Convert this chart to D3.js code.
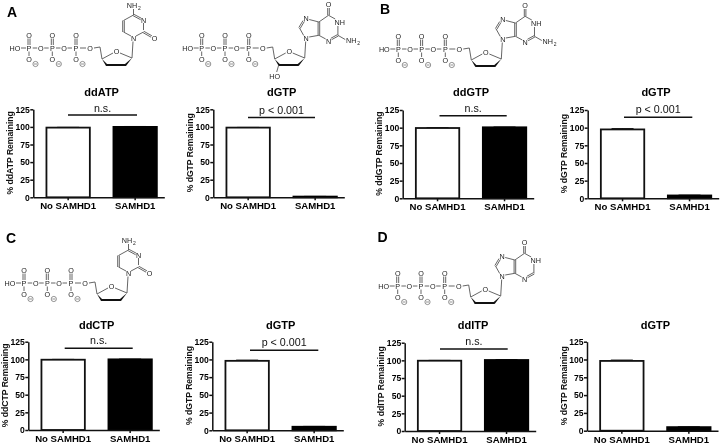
<!DOCTYPE html>
<html><head><meta charset="utf-8">
<style>html,body{margin:0;padding:0;background:#fff}svg{display:block;filter:blur(0.35px)}text{font-family:"Liberation Sans",Arial,sans-serif}</style>
<script src="https://cdn.jsdelivr.net/npm/d3@7"></script></head><body><div id="c"></div>
<script>
const categories = ["No SAMHD1", "SAMHD1"];
const yTicks = [0, 25, 50, 75, 100, 125];
const titles = ["ddATP", "dGTP", "ddGTP", "dGTP", "ddCTP", "dGTP", "ddITP", "dGTP"];
const significance = ["n.s.", "p < 0.001", "n.s.", "p < 0.001", "n.s.", "p < 0.001", "n.s.", ""];
const remainingNoSAMHD1 = [99, 99, 99.5, 97.5, 99.5, 98, 99.5, 98];
const remainingSAMHD1 = [100, 1, 100.5, 4, 100, 5, 100.5, 5];
const errorNoSAMHD1 = [0.4, 0.3, 0.5, 1.2, 0.5, 1, 0.5, 1.2];
const errorSAMHD1 = [0.6, 0.3, 0.4, 0.5, 0.4, 0.5, 0.5, 0.5];

// layout: left of axis, y of 125, y of 0, sig line x1, x2, y, sig label baseline
const layout = [
  [33.3,109.3,197.3, 68,137,115, 111.7],
  [213.3,109.3,197.3, 248,315,117.5, 113.5],
  [402.7,110,198.3, 439.5,506.7,115.7, 112],
  [587.7,110,198.3, 624,692.3,117.3, 113.3],
  [28.3,341.7,430, 64.7,132.7,348.3, 344],
  [212.3,341.7,430.3, 250,318.3,350.3, 346],
  [404.7,342.7,431, 440,507.7,349, 345],
  [587,341.7,430.7, 0,0,0,0]
];
const titleBase = [96,96,96,96,329,329,329,329];
const letters = [["A",7,17],["B",380,14],["C",6,243],["D",377.5,242]];
// x, y of first P, base type, has 3'-OH
const molecules = [[29,48,"C",false],[201.7,48,"G",true],[398.3,49,"G",false],[24,283,"C",false],[397.7,286,"I",false]];

const W = 725, H = 445, ink = "#111", axisW = 131;
const svg = d3.select("#c").append("svg").attr("width",W).attr("height",H);
svg.append("rect").attr("width",W).attr("height",H).attr("fill","#fff");

letters.forEach(([t,x,y]) => svg.append("text").attr("x",x).attr("y",y)
  .attr("font-size",14).attr("font-weight","bold").attr("fill","#000").text(t));

titles.forEach((title,i) => {
  const [x0,yTop,yBot,sx1,sx2,sy,sLab] = layout[i];
  const y = d3.scaleLinear().domain([0,125]).range([yBot,yTop]);
  const x = d3.scaleBand().domain(categories).range([x0,x0+axisW])
    .paddingInner(22/67).paddingOuter(19/2/67).align(0.65);
  const g = svg.append("g");
  const vals = [remainingNoSAMHD1[i], remainingSAMHD1[i]];
  const errs = [errorNoSAMHD1[i], errorSAMHD1[i]];

  // error bars
  categories.forEach((c,k) => {
    const cx = x(c) + x.bandwidth()/2;
    const top = y(vals[k] + errs[k]);
    g.append("line").attr("x1",cx).attr("x2",cx).attr("y1",y(vals[k])).attr("y2",top).attr("stroke",ink).attr("stroke-width",1);
    g.append("line").attr("x1",cx-11).attr("x2",cx+11).attr("y1",top).attr("y2",top).attr("stroke",ink).attr("stroke-width",1);
  });
  // bars
  g.selectAll("rect.bar").data(categories).join("rect").attr("class","bar")
    .attr("x",c => x(c)+0.8).attr("width",x.bandwidth()-1.6)
    .attr("y",(c,k) => y(vals[k])).attr("height",(c,k) => y(0)-y(vals[k]))
    .attr("fill",(c,k) => k ? "#000" : "#fff").attr("stroke",(c,k)=> k ? "#000" : ink).attr("stroke-width",1.8);

  // axes
  const ay = g.append("g").attr("transform",`translate(${x0},0)`)
    .call(d3.axisLeft(y).tickValues(yTicks).tickSize(3).tickSizeOuter(0).tickPadding(0.5));
  const ax = g.append("g").attr("transform",`translate(0,${yBot})`)
    .call(d3.axisBottom(x).tickSize(3).tickSizeOuter(0).tickPadding(2));
  [ay,ax].forEach(a => {
    a.selectAll("path,line").attr("stroke",ink).attr("stroke-width",1.5);
    a.selectAll("text").attr("font-family",'"Liberation Sans",Arial,sans-serif').attr("font-weight","bold").attr("fill","#000");
  });
  ay.selectAll("text").attr("font-size",8.6);
  ax.selectAll("text").attr("font-size",9.6);

  // y title
  const ym = (yTop+yBot)/2 - 0.5;
  g.append("text").attr("transform",`translate(${x0-20.5},${ym}) rotate(-90)`)
    .attr("text-anchor","middle").attr("font-size",8.6).attr("font-weight","bold").attr("fill","#111")
    .text(`% ${title} Remaining`);

  // title
  const tx = (x(categories[0]) + x(categories[1]) + x.bandwidth())/2;
  g.append("text").attr("x",tx).attr("y",titleBase[i]).attr("text-anchor","middle")
    .attr("font-size",11).attr("font-weight","bold").attr("fill","#000").text(title);

  // significance
  if (significance[i]) {
    g.append("line").attr("x1",sx1).attr("x2",sx2).attr("y1",sy).attr("y2",sy).attr("stroke",ink).attr("stroke-width",1.4);
    g.append("text").attr("x",(sx1+sx2)/2).attr("y",sLab).attr("text-anchor","middle")
      .attr("font-size",10.7).attr("fill","#111").text(significance[i]);
  }
});

// ----- chemical structures -----
const bondCol = "#555", atomCol = "#222";
function drawMolecule([mx,my,base,oh]) {
  const m = svg.append("g").attr("transform",`translate(${mx},${my})`);
  const bond = (x1,y1,x2,y2,w=0.9,c=bondCol) => m.append("line").attr("x1",x1).attr("y1",y1).attr("x2",x2).attr("y2",y2).attr("stroke",c).attr("stroke-width",w);
  const atom = (t,x,y,anchor="middle") => m.append("text").attr("x",x).attr("y",y+2.5).attr("text-anchor",anchor).attr("font-size",7.2).attr("fill",atomCol).text(t);
  const dbl = (x1,y1,x2,y2,d=1) => {
    const L = Math.hypot(x2-x1,y2-y1), nx = -(y2-y1)/L*d, ny = (x2-x1)/L*d;
    bond(x1+nx,y1+ny,x2+nx,y2+ny); bond(x1-nx,y1-ny,x2-nx,y2-ny);
  };
  atom("HO",-14,0);
  bond(-8,0,-3,0);
  [0,23.3,47].forEach(px => {
    atom("P",px,0);
    atom("O",px,-13);
    dbl(px,-9.5,px,-3);
    atom("O",px,11.5);
    bond(px,3.5,px,8);
    m.append("circle").attr("cx",px+6.5).attr("cy",16).attr("r",2.6).attr("fill","none").attr("stroke","#666").attr("stroke-width",0.7);
    bond(px+5,16,px+8,16,0.7,"#666");
  });
  [11.7,35].forEach(ox => { atom("O",ox,0); bond(ox-8,0,ox-3.5,0); bond(ox+3.5,0,ox+8,0); });
  atom("O",61,0); bond(51,0,57,0);
  // sugar
  bond(65,0,71,-1); bond(71,-1,73,11);
  atom("O",87.5,3);
  bond(73,11,84,5); bond(91,5,103,10);
  m.append("polygon").attr("points","73,11 77,18 78,16").attr("fill","#111");
  m.append("polygon").attr("points","103,10 97,18 96,16").attr("fill","#111");
  bond(77,17,97,17,2,"#111");
  bond(103,10,104,-6.5);
  if (oh) { bond(77,17,75,24); atom("HO",73,28); }

  const ox = 104.5, oy = -10;
  const at = (x,y) => [ox+x, oy+y];
  const b = (p,q,dblB) => dblB ? dbl(...at(...p),...at(...q),0.8) : bond(...at(...p),...at(...q));
  if (base === "C") {
    atom("N",ox,oy);
    b([-2.5,-2],[-10,-6]); b([-10,-6],[-10,-17.5],true); b([-10,-17.5],[0,-23]);
    b([0,-23],[7.5,-19],true); b([10,-15],[10,-8]); b([10,-6],[2.5,-2]);
    b([10,-6],[18,-1.5],true);
    b([0,-23],[0,-29]);
    atom("N",ox+10,oy-17.5); atom("O",ox+21,oy);
    atom("NH",ox-1.5,oy-33);
    m.append("text").attr("x",ox+4.5).attr("y",oy-28.5).attr("font-size",5).attr("fill",atomCol).text("2");
  } else {
    atom("N",ox,oy);
    atom("N",ox,oy-19.5);
    b([-2.5,-2.5],[-6.7,-10]); b([-6.7,-10],[-2.5,-17],true);
    b([3,-18.5],[12.7,-16]); b([12.7,-16],[12.7,-2.7],true); b([12.7,-2.7],[3,-1]);
    b([12.7,-16],[22.3,-22.7]); b([22.3,-22.7],[22.3,-30],true);
    atom("O",ox+22.3,oy-33.3);
    atom("N",ox+22.3,oy+3);
    b([12.7,-2.7],[19.5,1]);
    b([25,1],[31.7,-2.7], true);
    b([31.7,-2.7],[31.7,-12]);
    b([29,-19],[22.3,-22.7]);
    atom("NH",ox+33.5,oy-16);
    if (base === "G") {
      b([31.7,-2.7],[39,1.5]);
      atom("NH",ox+45,oy+2.3);
      m.append("text").attr("x",ox+51).attr("y",oy+6.5).attr("font-size",5).attr("fill",atomCol).text("2");
    }
  }
}
molecules.forEach(drawMolecule);
</script></body></html>
